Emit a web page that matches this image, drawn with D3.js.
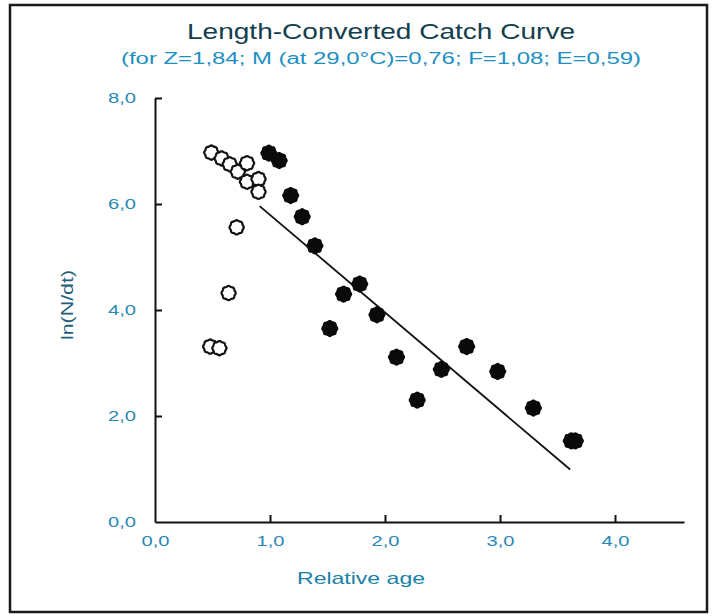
<!DOCTYPE html>
<html>
<head>
<meta charset="utf-8">
<script src="https://cdn.jsdelivr.net/npm/d3@7"></script>
<style>
  html, body { margin: 0; padding: 0; background: #ffffff; }
  svg { display: block; }
  text { font-family: "Liberation Sans", Arial, sans-serif; }
</style>
</head>
<body>
<svg id="chart" width="713" height="616"></svg>
<script>
// ---- data ----
const titleText = "Length-Converted Catch Curve";
const subtitleText = "(for Z=1,84; M (at 29,0\u00B0C)=0,76; F=1,08; E=0,59)";
const xLabel = "Relative age";
const yLabel = "ln(N/dt)";

const xTicks = [0, 1, 2, 3, 4];
const xTickLabels = ["0,0", "1,0", "2,0", "3,0", "4,0"];
const yTicks = [0, 2, 4, 6, 8];
const yTickLabels = ["0,0", "2,0", "4,0", "6,0", "8,0"];

// open points (not used in regression)
const openX = [0.49, 0.58, 0.65, 0.72, 0.80, 0.80, 0.90, 0.90, 0.71, 0.64, 0.48, 0.56];
const openY = [6.97, 6.86, 6.75, 6.61, 6.77, 6.42, 6.47, 6.23, 5.56, 4.32, 3.31, 3.28];

// filled points (used in regression)
const fillX = [0.99, 1.08, 1.18, 1.28, 1.39, 1.64, 1.78, 1.52, 1.93, 2.10, 2.28, 2.49, 2.71, 2.98, 3.29, 3.62, 3.655];
const fillY = [6.96, 6.82, 6.16, 5.76, 5.21, 4.30, 4.49, 3.65, 3.91, 3.11, 2.30, 2.88, 3.31, 2.84, 2.15, 1.53, 1.53];

// regression line end points
const lineX = [0.91, 3.61];
const lineY = [5.96, 0.99];

// ---- drawing ----
const svg = d3.select("#chart");

svg.append("rect")
  .attr("x", 10).attr("y", 5).attr("width", 697).attr("height", 607)
  .attr("fill", "#ffffff").attr("stroke", "#1a1a1a").attr("stroke-width", 2.5);

const x = d3.scaleLinear().domain([0, 4.6]).range([155, 155 + 4.6 * 115]);
const y = d3.scaleLinear().domain([0, 8]).range([522, 98]);

// title
svg.append("text")
  .attr("x", 381).attr("y", 39)
  .attr("text-anchor", "middle")
  .attr("font-size", 22)
  .attr("fill", "#123d4e")
  .attr("textLength", 388).attr("lengthAdjust", "spacingAndGlyphs")
  .text(titleText);

svg.append("text")
  .attr("x", 381).attr("y", 64)
  .attr("text-anchor", "middle")
  .attr("font-size", 16)
  .attr("fill", "#1e8fc2")
  .attr("textLength", 520).attr("lengthAdjust", "spacingAndGlyphs")
  .text(subtitleText);

// axes
const xAxis = d3.axisBottom(x)
  .tickValues(xTicks)
  .tickFormat((d, i) => xTickLabels[i])
  .tickSizeInner(-7).tickSizeOuter(0).tickPadding(13);
const gx = svg.append("g").attr("transform", "translate(0,522)").call(xAxis);

const yAxis = d3.axisLeft(y)
  .tickValues(yTicks)
  .tickFormat((d, i) => yTickLabels[i])
  .tickSizeInner(-7).tickSizeOuter(0).tickPadding(19);
const gy = svg.append("g").attr("transform", "translate(155,0)").call(yAxis);

[gx, gy].forEach(g => {
  g.select(".domain").attr("stroke", "#111").attr("stroke-width", 2);
  g.selectAll(".tick line").attr("stroke", "#111").attr("stroke-width", 2);
  g.selectAll(".tick text")
    .attr("font-size", 15)
    .attr("font-family", "'Liberation Sans', Arial, sans-serif")
    .attr("fill", "#2a88b6")
    .attr("textLength", 28).attr("lengthAdjust", "spacingAndGlyphs");
});
// hide ticks at origin
gx.selectAll(".tick").filter(d => d === 0).select("line").remove();
gy.selectAll(".tick").filter(d => d === 0).select("line").remove();

// axis titles
svg.append("text")
  .attr("x", 361).attr("y", 584)
  .attr("text-anchor", "middle")
  .attr("font-size", 17)
  .attr("fill", "#1b7fa8")
  .attr("textLength", 128).attr("lengthAdjust", "spacingAndGlyphs")
  .text(xLabel);

svg.append("text")
  .attr("transform", "translate(73,305) rotate(-90)")
  .attr("text-anchor", "middle")
  .attr("font-size", 16)
  .attr("fill", "#245f7a")
  .attr("textLength", 70).attr("lengthAdjust", "spacingAndGlyphs")
  .text(yLabel);

// regression line
svg.append("path")
  .datum(lineX.map((d, i) => [d, lineY[i]]))
  .attr("d", d3.line().x(d => x(d[0])).y(d => y(d[1])))
  .attr("stroke", "#111").attr("stroke-width", 1.8).attr("fill", "none");

// scalloped marker
function flower(R) {
  return {
    draw(ctx) {
      const n = 64;
      for (let k = 0; k <= n; k++) {
        const t = (k / n) * 2 * Math.PI;
        const r = R * (1 + 0.05 * Math.cos(8 * t));
        const px = r * Math.cos(t), py = r * Math.sin(t);
        if (k === 0) ctx.moveTo(px, py); else ctx.lineTo(px, py);
      }
      ctx.closePath();
    }
  };
}

svg.append("g").selectAll("path")
  .data(openX.map((d, i) => [d, openY[i]]))
  .join("path")
  .attr("transform", d => `translate(${x(d[0])},${y(d[1])})`)
  .attr("d", d3.symbol().type(flower(6.8))())
  .attr("fill", "#ffffff").attr("stroke", "#111").attr("stroke-width", 2.2);

svg.append("g").selectAll("path")
  .data(fillX.map((d, i) => [d, fillY[i]]))
  .join("path")
  .attr("transform", d => `translate(${x(d[0])},${y(d[1])})`)
  .attr("d", d3.symbol().type(flower(8.2))())
  .attr("fill", "#0a0a0a").attr("stroke", "none");
</script>
</body>
</html>
